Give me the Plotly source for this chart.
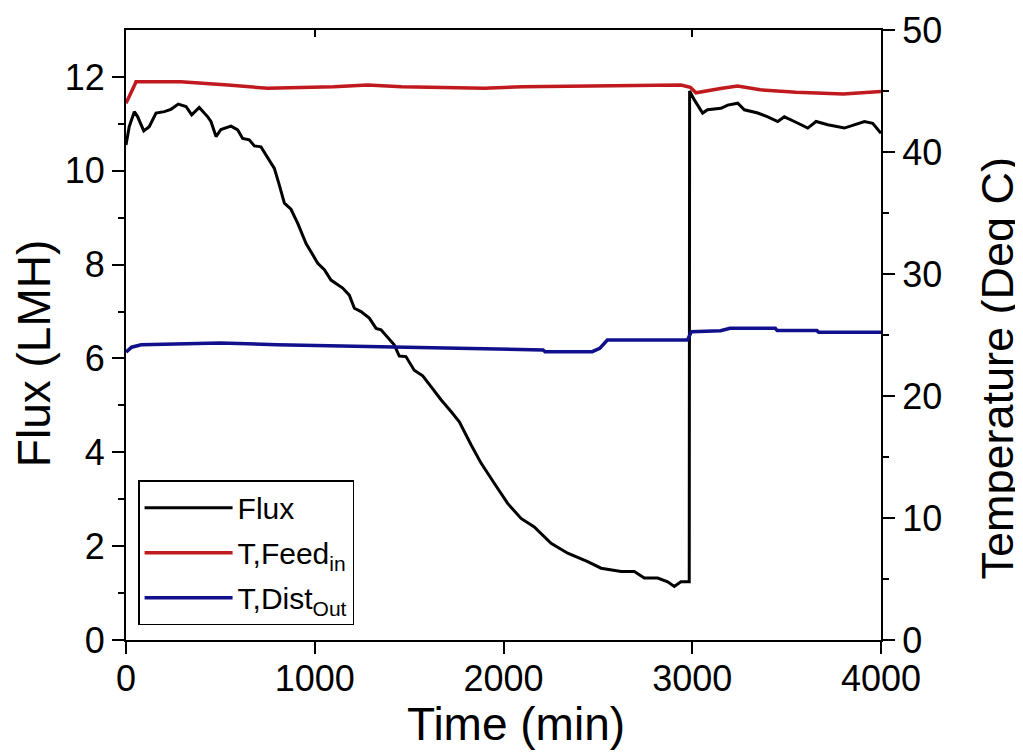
import plotly.graph_objects as go

# ---- data ----
flux_t = [0, 9, 17, 44, 62, 94, 123, 159, 203, 238, 277, 318, 348, 388, 433, 450, 477, 503, 556, 592,
          618, 653, 680, 715, 751, 786, 812, 839, 874, 910, 954, 1016, 1051, 1086, 1148, 1183, 1210,
          1245, 1289, 1325, 1351, 1421, 1448, 1483, 1527, 1572, 1616, 1669, 1722, 1766, 1828, 1881,
          1951, 2022, 2093, 2163, 2252, 2340, 2446, 2517, 2623, 2693, 2746, 2817, 2870, 2905, 2940,
          2984, 2986, 3011, 3055, 3081, 3152, 3188, 3241, 3276, 3347, 3400, 3453, 3488, 3541, 3612,
          3656, 3718, 3806, 3859, 3912, 3956, 4000]
flux_v = [10.55, 10.80, 10.94, 11.26, 11.15, 10.85, 10.94, 11.23, 11.26, 11.31, 11.42, 11.37, 11.19,
          11.35, 11.15, 11.05, 10.73, 10.88, 10.95, 10.87, 10.69, 10.66, 10.53, 10.51, 10.27, 10.05,
          9.70, 9.31, 9.18, 8.88, 8.45, 8.03, 7.89, 7.67, 7.50, 7.35, 7.07, 7.00, 6.86, 6.64, 6.61,
          6.29, 6.05, 6.04, 5.75, 5.63, 5.40, 5.12, 4.87, 4.65, 4.16, 3.77, 3.34, 2.91, 2.59, 2.41,
          2.06, 1.85, 1.67, 1.53, 1.46, 1.46, 1.32, 1.32, 1.24, 1.14, 1.24, 1.24, 11.70, 11.51, 11.23,
          11.30, 11.33, 11.40, 11.44, 11.30, 11.23, 11.15, 11.05, 11.15, 11.05, 10.91, 11.05, 10.98,
          10.91, 10.98, 11.05, 11.01, 10.80]

feed_t = [0, 20, 40, 53, 100, 290, 540, 750, 1100, 1280, 1460, 1700, 1900, 2100, 2400, 2700, 2940,
          2990, 3020, 3150, 3240, 3360, 3550, 3800, 4000]
feed_v = [44.0, 44.6, 45.3, 45.76, 45.76, 45.76, 45.49, 45.22, 45.35, 45.49, 45.35, 45.30, 45.22,
          45.35, 45.40, 45.49, 45.49, 45.30, 44.85, 45.2, 45.4, 45.1, 44.9, 44.75, 44.95]

dist_t = [0, 30, 80, 300, 500, 800, 1100, 1400, 1960, 2210, 2220, 2470, 2510, 2550, 2975, 2995,
          3150, 3200, 3440, 3450, 3660, 3670, 4000]
dist_v = [23.6, 24.0, 24.2, 24.3, 24.35, 24.2, 24.1, 24.04, 23.85, 23.77, 23.63, 23.63, 23.9, 24.59,
          24.59, 25.27, 25.35, 25.55, 25.55, 25.36, 25.36, 25.22, 25.22]

x_ticks = [0, 1000, 2000, 3000, 4000]
x_top_ticks = [1000, 3000]
flux_ticks = [0, 2, 4, 6, 8, 10, 12]
flux_minor = [1, 3, 5, 7, 9, 11]
temp_ticks = [0, 10, 20, 30, 40, 50]
temp_minor = [5, 15, 25, 35, 45]

FONT = "Liberation Sans, Arial, sans-serif"

fig = go.Figure()
fig.add_trace(go.Scatter(x=flux_t, y=flux_v, mode="lines", name="Flux",
                         line=dict(color="#000000", width=3), legendgroup="a"))
fig.add_trace(go.Scatter(x=feed_t, y=feed_v, mode="lines", name="T,Feed<sub>in</sub>",
                         line=dict(color="#C0191E", width=3.5), yaxis="y2", legendgroup="b"))
fig.add_trace(go.Scatter(x=dist_t, y=dist_v, mode="lines", name="T,Dist<sub>Out</sub>",
                         line=dict(color="#10108C", width=3.5), yaxis="y2", legendgroup="c"))
# empty helper trace so the top (mirror) axis with inward ticks is drawn
fig.add_trace(go.Scatter(x=[], y=[], xaxis="x2", showlegend=False, hoverinfo="skip"))

axis_common = dict(showgrid=False, zeroline=False, showline=True, linecolor="black", linewidth=2,
                   ticks="outside", tickcolor="black", tickwidth=2, ticklen=12, automargin=False,
                   tickfont=dict(family=FONT, size=36, color="black"))

fig.update_layout(
    # page body has an 8px margin: size the figure so the plot area lands where the reference has it
    width=1015, height=746,
    margin=dict(l=118, r=142, t=22, b=114),
    paper_bgcolor="white", plot_bgcolor="white",
    font=dict(family=FONT, color="black"),
    xaxis=dict(range=[0, 4000], tickvals=x_ticks, mirror=True, ticklabelstandoff=-6,
               **axis_common),
    xaxis2=dict(range=[0, 4000], overlaying="x", side="top", tickvals=x_top_ticks, anchor="y",
                ticks="inside", ticklen=7, tickwidth=2, tickcolor="black", automargin=False,
                showticklabels=False, showline=False, showgrid=False, zeroline=False),
    yaxis=dict(range=[0, 13], tickvals=flux_ticks,
               minor=dict(tickvals=flux_minor, ticks="outside", ticklen=6, tickwidth=2,
                          tickcolor="black"),
               **axis_common),
    yaxis2=dict(range=[0, 50], tickvals=temp_ticks, overlaying="y", side="right",
                minor=dict(tickvals=temp_minor, ticks="outside", ticklen=6, tickwidth=2,
                           tickcolor="black"),
                **axis_common),
    annotations=[
        dict(text="Time (min)", xref="paper", yref="paper", x=0.517, y=-0.137,
             xanchor="center", yanchor="middle", showarrow=False,
             font=dict(family=FONT, size=46, color="black")),
        dict(text="Flux (LMH)", textangle=-90, xref="paper", yref="paper", x=-0.122, y=0.47,
             xanchor="center", yanchor="middle", showarrow=False,
             font=dict(family=FONT, size=46, color="black")),
        dict(text="Temperature (Deg C)", textangle=-90, xref="paper", yref="paper", x=1.155, y=0.445,
             xanchor="center", yanchor="middle", showarrow=False,
             font=dict(family=FONT, size=45, color="black")),
    ],
    legend=dict(x=0.016, y=0.262, xanchor="left", yanchor="top",
                bgcolor="white", bordercolor="black", borderwidth=1.5,
                font=dict(family=FONT, size=30, color="black"),
                tracegroupgap=3, itemwidth=88),
    showlegend=True,
)

fig.write_html("out.html")
